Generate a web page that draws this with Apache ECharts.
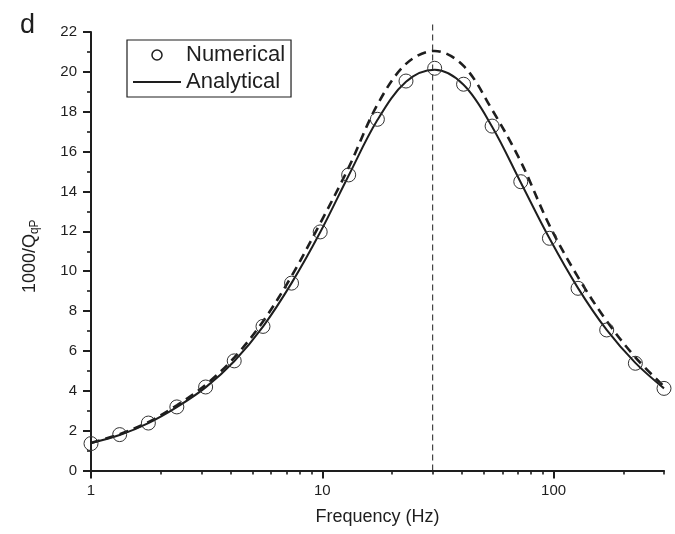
<!DOCTYPE html>
<html>
<head>
<meta charset="utf-8">
<script src="https://cdn.jsdelivr.net/npm/echarts@6/dist/echarts.min.js"></script>
<style>
html,body{margin:0;padding:0;background:#fff;}
#c{width:675px;height:534px;}
</style>
</head>
<body>
<div id="c"></div>
<script>
// ---- data ----
const freqs = [1, 1.33, 1.77, 2.35, 3.13, 4.16, 5.54, 7.36, 9.79, 13.0, 17.3, 23.0, 30.6, 40.8, 54.2, 72.1, 95.9, 127.5, 169.6, 225.6, 300];
const numerical = [1.35, 1.80, 2.38, 3.19, 4.19, 5.50, 7.23, 9.40, 11.97, 14.83, 17.62, 19.54, 20.18, 19.38, 17.28, 14.49, 11.65, 9.14, 7.05, 5.38, 4.12];
const analytical = [1.38, 1.78, 2.38, 3.18, 4.17, 5.48, 7.22, 9.40, 11.95, 14.80, 17.58, 19.50, 20.10, 19.35, 17.25, 14.45, 11.65, 9.15, 7.05, 5.40, 4.12];
const dashedCurve = [1.38, 1.82, 2.43, 3.27, 4.30, 5.66, 7.48, 9.75, 12.40, 15.20, 18.35, 20.40, 21.05, 20.30, 18.10, 15.50, 12.30, 9.70, 7.50, 5.68, 4.22];
const peakFreq = 30;
const peakLineY = [0, 22.45];
const xMajorTicks = [1, 10, 100];
const xMinorTicks = [2, 3, 4, 5, 6, 7, 8, 9, 20, 30, 40, 50, 60, 70, 80, 90, 200, 300];
const xRange = [1, 300];
const yRange = [0, 22];
const yStep = 2;
const seriesNames = ['Numerical', 'Analytical'];

const zip = (xs, ys) => xs.map((x, i) => [x, ys[i]]);
const FONT = 'Liberation Sans, Arial, sans-serif';
const INK = '#1e1e1e';
const CLEAR = 'rgba(0,0,0,0)';

const chart = echarts.init(document.getElementById('c'), null, {renderer: 'canvas'});
chart.setOption({
  backgroundColor: '#fff',
  animation: false,
  title: {
    text: 'd', left: 15, top: 7,
    textStyle: {fontSize: 27, fontWeight: 'normal', color: INK, fontFamily: FONT}
  },
  legend: {
    data: [
      {name: seriesNames[0], icon: 'circle',
       itemStyle: {color: CLEAR, borderColor: INK, borderWidth: 1.5}},
      {name: seriesNames[1], icon: 'path://M0,0H48V2H0Z',
       itemStyle: {color: INK, borderWidth: 0}}
    ],
    orient: 'vertical', left: 127, top: 40,
    padding: [4, 6, 4, 6],
    itemWidth: 48, itemHeight: 10, itemGap: 5,
    borderColor: INK, borderWidth: 1.2, borderRadius: 0,
    textStyle: {fontSize: 22, color: INK, fontFamily: FONT}
  },
  grid: {left: 91, right: 11, top: 32, bottom: 63.5, containLabel: false},
  xAxis: [{
    type: 'log', logBase: 10, min: xRange[0], max: xRange[1],
    name: 'Frequency (Hz)', nameLocation: 'middle', nameGap: 38,
    nameTextStyle: {fontSize: 18, color: INK, fontFamily: FONT},
    axisLine: {show: true, lineStyle: {color: INK, width: 2}},
    axisTick: {show: true, inside: false, length: 8, lineStyle: {color: INK, width: 2}, customValues: xMajorTicks},
    axisLabel: {fontSize: 15, color: INK, fontFamily: FONT, margin: 13, customValues: xMajorTicks},
    splitLine: {show: false}, minorTick: {show: false}
  }, {
    type: 'log', logBase: 10, min: xRange[0], max: xRange[1], position: 'bottom',
    axisLine: {show: false},
    axisTick: {show: true, inside: false, length: 4, lineStyle: {color: INK, width: 1.6}, customValues: xMinorTicks},
    axisLabel: {show: false},
    splitLine: {show: false}
  }],
  yAxis: {
    type: 'value', min: yRange[0], max: yRange[1], interval: yStep,
    name: '1000/Q{s|qP}', nameLocation: 'middle', nameGap: 50, nameRotate: 90,
    nameTextStyle: {fontSize: 18, color: INK, fontFamily: FONT, padding: [0, 10, 0, 0],
      rich: {s: {fontSize: 12, color: INK, fontFamily: FONT, padding: [10, 0, 0, 0]}}},
    axisLine: {show: true, lineStyle: {color: INK, width: 2}},
    axisTick: {show: true, inside: false, length: 8, lineStyle: {color: INK, width: 2}},
    minorTick: {show: true, splitNumber: 2, length: 4, lineStyle: {color: INK, width: 1.6}},
    axisLabel: {fontSize: 15, color: INK, fontFamily: FONT, margin: 14},
    splitLine: {show: false}
  },
  series: [{
    name: 'Dashed', type: 'line', data: zip(freqs, dashedCurve),
    smooth: 0.35, symbol: 'none', z: 2,
    lineStyle: {color: INK, width: 2.6, type: [9, 6]}
  }, {
    name: 'Analytical', type: 'line', data: zip(freqs, analytical),
    smooth: 0.35, symbol: 'none', z: 3,
    itemStyle: {color: INK},
    lineStyle: {color: INK, width: 2}
  }, {
    name: 'Numerical', type: 'scatter', data: zip(freqs, numerical),
    symbol: 'circle', symbolSize: 14, z: 4,
    itemStyle: {color: CLEAR, borderColor: '#333', borderWidth: 1, opacity: 1}
  }, {
    name: 'PeakLine', type: 'line', data: peakLineY.map(y => [peakFreq, y]),
    symbol: 'none', clip: false, z: 1,
    lineStyle: {color: INK, width: 1, type: [6, 4]}
  }]
});
</script>
</body>
</html>
